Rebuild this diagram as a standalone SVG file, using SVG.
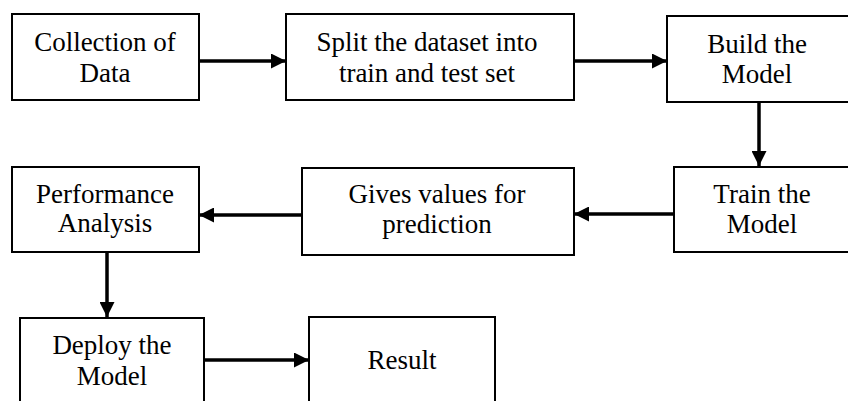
<svg xmlns="http://www.w3.org/2000/svg" width="848" height="401" viewBox="0 0 848 401">
<style>
.box{fill:#fff;stroke:#000;stroke-width:2}
.lbl{font-family:"Liberation Serif","Times New Roman",serif;font-size:27px;fill:#000;text-anchor:middle}
.conn{stroke:#000;stroke-width:3.5;fill:none}
</style>
<defs>
<marker id="ah" markerUnits="userSpaceOnUse" viewBox="0 0 15 15" refX="15" refY="7.5" markerWidth="15" markerHeight="15" orient="auto">
<path d="M0,0 L15,7.5 L0,15 z" fill="#000"/>
</marker>
</defs>
<rect width="848" height="401" fill="#fff"/>
<g id="n1"><rect class="box" x="12" y="14" width="187" height="86"/><text class="lbl" x="105" y="51">Collection of</text><text class="lbl" x="105" y="82">Data</text></g>
<g id="n2"><rect class="box" x="286" y="14" width="288" height="86"/><text class="lbl" x="427" y="51">Split the dataset into</text><text class="lbl" x="427" y="82">train and test set</text></g>
<g id="n3"><rect class="box" x="667" y="16" width="190" height="86"/><text class="lbl" x="757" y="53">Build the</text><text class="lbl" x="757" y="83">Model</text></g>
<g id="n4"><rect class="box" x="674" y="167" width="190" height="85"/><text class="lbl" x="762" y="203">Train the</text><text class="lbl" x="762" y="233">Model</text></g>
<g id="n5"><rect class="box" x="302" y="168" width="272" height="87"/><text class="lbl" x="437" y="203">Gives values for</text><text class="lbl" x="437" y="233">prediction</text></g>
<g id="n6"><rect class="box" x="12" y="167" width="187" height="85"/><text class="lbl" x="105" y="203">Performance</text><text class="lbl" x="105" y="232">Analysis</text></g>
<g id="n7"><rect class="box" x="20" y="318" width="184" height="100"/><text class="lbl" x="112" y="354">Deploy the</text><text class="lbl" x="112" y="385">Model</text></g>
<g id="n8"><rect class="box" x="309" y="317" width="186" height="100"/><text class="lbl" x="402" y="369">Result</text></g>
<g id="connectors">
<line class="conn" x1="199" y1="61" x2="286" y2="61" marker-end="url(#ah)"/>
<line class="conn" x1="574" y1="61" x2="667" y2="61" marker-end="url(#ah)"/>
<line class="conn" x1="759" y1="102" x2="759" y2="166" marker-end="url(#ah)"/>
<line class="conn" x1="674" y1="214" x2="574" y2="214" marker-end="url(#ah)"/>
<line class="conn" x1="302" y1="215" x2="199" y2="215" marker-end="url(#ah)"/>
<line class="conn" x1="107" y1="252" x2="107" y2="317" marker-end="url(#ah)"/>
<line class="conn" x1="204" y1="360" x2="309" y2="360" marker-end="url(#ah)"/>
</g>
</svg>
